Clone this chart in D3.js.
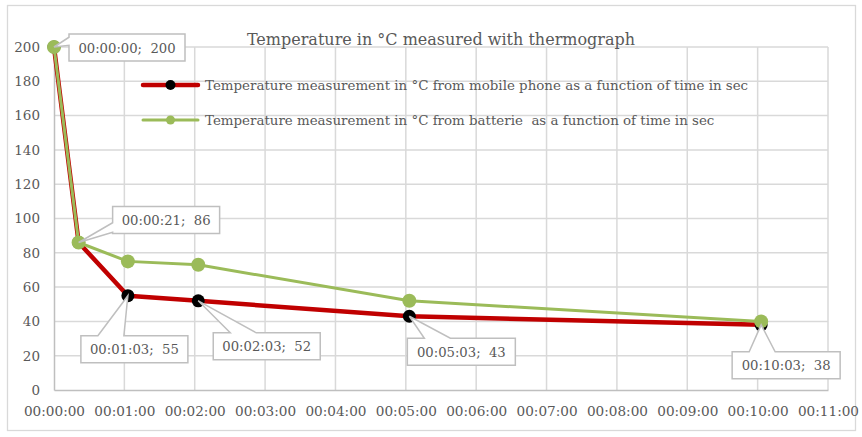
<!DOCTYPE html>
<html>
<head>
<meta charset="utf-8">
<script src="https://cdn.jsdelivr.net/npm/d3@7"></script>
<style>
  body { margin: 0; background: #fff; }
  text { font-family: "DejaVu Serif", serif; fill: #595959; white-space: pre; }
</style>
</head>
<body>
<script>
(function () {

    //chart data
    var timesSec = [0, 21, 63, 123, 303, 603]; //measurement times in seconds
    var phoneTemps = [200, 86, 55, 52, 43, 38]; //mobile phone
    var batteryTemps = [200, 86, 75, 73, 52, 40]; //batterie
    var yTicks = [0, 20, 40, 60, 80, 100, 120, 140, 160, 180, 200];
    var xTicksSec = [0, 60, 120, 180, 240, 300, 360, 420, 480, 540, 600, 660];
    var seriesNames = [
        "Temperature measurement in °C from mobile phone as a function of time in sec",
        "Temperature measurement in °C from batterie  as a function of time in sec"
    ];
    var chartTitle = "Temperature in °C measured with thermograph";

    //label callouts: box offset from the point, box width, side of the wedge
    var labelLayout = [
        {dx: 15, dy: -13, w: 116, side: "left", b0: 0.12, b1: 0.42},
        {dx: 34, dy: -36, w: 107, side: "left", b0: 0.6, b1: 0.95},
        {dx: -47, dy: 40, w: 107, side: "top"},
        {dx: 15, dy: 32, w: 107, side: "top"},
        {dx: -2, dy: 22, w: 108, side: "top"},
        {dx: -29, dy: 27, w: 108, side: "top"}
    ];

    var width = 862, height = 437;
    var margin = {left: 54, right: 34, top: 47, bottom: 47};

    var svg = d3.select("body")
        .append("svg")
        .attr("width", width)
        .attr("height", height);

    //outer chart border
    svg.append("rect")
        .attr("x", 7.5).attr("y", 5.5)
        .attr("width", 848).attr("height", 425)
        .attr("fill", "#fff")
        .attr("stroke", "#d9d9d9")
        .attr("stroke-width", 1.3);

    var x = d3.scaleLinear()
        .domain([0, 660])
        .range([margin.left, width - margin.right]);

    var y = d3.scaleLinear()
        .domain([0, 200])
        .range([height - margin.bottom, margin.top]);

    function fmtTime(s) {
        var h = Math.floor(s / 3600), m = Math.floor((s % 3600) / 60), sec = s % 60;
        return d3.format("02")(h) + ":" + d3.format("02")(m) + ":" + d3.format("02")(sec);
    }

    //gridlines
    svg.selectAll(".hgrid")
        .data(yTicks.filter(function (d) { return d > 0; }))
        .enter()
        .append("line")
        .attr("class", "hgrid")
        .attr("x1", x(0)).attr("x2", x(660))
        .attr("y1", function (d) { return y(d); })
        .attr("y2", function (d) { return y(d); })
        .attr("stroke", "#d9d9d9")
        .attr("stroke-width", 1.5);

    svg.selectAll(".vgrid")
        .data(xTicksSec.filter(function (d) { return d > 0; }))
        .enter()
        .append("line")
        .attr("class", "vgrid")
        .attr("x1", function (d) { return x(d); })
        .attr("x2", function (d) { return x(d); })
        .attr("y1", y(0)).attr("y2", y(200))
        .attr("stroke", "#d9d9d9")
        .attr("stroke-width", 1.5);

    //axes
    var xAxis = d3.axisBottom(x)
        .tickValues(xTicksSec)
        .tickFormat(fmtTime)
        .tickSize(0)
        .tickPadding(16);

    var yAxis = d3.axisLeft(y)
        .tickValues(yTicks)
        .tickSize(0)
        .tickPadding(14);

    var gx = svg.append("g")
        .attr("transform", "translate(0," + y(0) + ")")
        .call(xAxis);
    gx.select(".domain").attr("stroke", "#bfbfbf").attr("stroke-width", 1.5);
    gx.selectAll("text").attr("font-size", 13.6).attr("fill", "#595959")
        .attr("font-family", "DejaVu Serif");

    var gy = svg.append("g")
        .attr("transform", "translate(" + x(0) + ",0)")
        .call(yAxis);
    gy.select(".domain").attr("stroke", "#bfbfbf").attr("stroke-width", 1.5);
    gy.selectAll("text").attr("font-size", 13.5).attr("fill", "#595959")
        .attr("font-family", "DejaVu Serif");

    //title
    svg.append("text")
        .attr("x", 441).attr("y", 45)
        .attr("text-anchor", "middle")
        .attr("font-size", 16)
        .text(chartTitle);

    //series
    var phoneData = timesSec.map(function (t, i) { return {t: t, v: phoneTemps[i]}; });
    var batteryData = timesSec.map(function (t, i) { return {t: t, v: batteryTemps[i]}; });

    var line = d3.line()
        .x(function (d) { return x(d.t); })
        .y(function (d) { return y(d.v); });

    svg.append("path")
        .datum(phoneData)
        .attr("d", line)
        .attr("fill", "none")
        .attr("stroke", "#c00000")
        .attr("stroke-width", 4.5)
        .attr("stroke-linejoin", "round");

    svg.selectAll(".phoneDot")
        .data(phoneData)
        .enter()
        .append("circle")
        .attr("class", "phoneDot")
        .attr("cx", function (d) { return x(d.t); })
        .attr("cy", function (d) { return y(d.v); })
        .attr("r", 6.5)
        .attr("fill", "#000");

    svg.append("path")
        .datum(batteryData)
        .attr("d", line)
        .attr("fill", "none")
        .attr("stroke", "#9bbb59")
        .attr("stroke-width", 3)
        .attr("stroke-linejoin", "round");

    svg.selectAll(".batteryDot")
        .data(batteryData)
        .enter()
        .append("circle")
        .attr("class", "batteryDot")
        .attr("cx", function (d) { return x(d.t); })
        .attr("cy", function (d) { return y(d.v); })
        .attr("r", 7)
        .attr("fill", "#9bbb59");

    //legend
    var legend = [
        {color: "#c00000", dot: "#000", lw: 4.5, r: 5, y: 85, name: seriesNames[0]},
        {color: "#9bbb59", dot: "#9bbb59", lw: 3, r: 4.5, y: 120, name: seriesNames[1]}
    ];
    legend.forEach(function (l) {
        svg.append("line")
            .attr("x1", 143).attr("x2", 198)
            .attr("y1", l.y).attr("y2", l.y)
            .attr("stroke", l.color)
            .attr("stroke-width", l.lw)
            .attr("stroke-linecap", "round");
        svg.append("circle")
            .attr("cx", 170.5).attr("cy", l.y).attr("r", l.r)
            .attr("fill", l.dot);
        svg.append("text")
            .attr("x", 205).attr("y", l.y + 5)
            .attr("font-size", 13.4)
            .text(l.name);
    });

    //data labels (callouts) for the phone series
    var h = 27;
    phoneData.forEach(function (d, i) {
        var L = labelLayout[i];
        var px = x(d.t), py = y(d.v);
        var bx = px + L.dx, by = py + L.dy, bw = L.w;
        var p;
        if (L.side === "top") {
            var a = bx + 17, b = bx + 43;
            p = "M" + bx + "," + by + "L" + a + "," + by + "L" + px + "," + py +
                "L" + b + "," + by + "L" + (bx + bw) + "," + by +
                "L" + (bx + bw) + "," + (by + h) + "L" + bx + "," + (by + h) + "Z";
        } else {
            var ya = by + h * L.b0, yb = by + h * L.b1;
            p = "M" + bx + "," + by + "L" + (bx + bw) + "," + by +
                "L" + (bx + bw) + "," + (by + h) + "L" + bx + "," + (by + h) +
                "L" + bx + "," + yb + "L" + px + "," + py + "L" + bx + "," + ya + "Z";
        }
        svg.append("path")
            .attr("d", p)
            .attr("fill", "#fff")
            .attr("stroke", "#bfbfbf")
            .attr("stroke-width", 1.5)
            .attr("stroke-linejoin", "miter");
        svg.append("text")
            .attr("x", bx + bw / 2).attr("y", by + h / 2 + 5)
            .attr("text-anchor", "middle")
            .attr("font-size", 13.2)
            .text(fmtTime(d.t) + ";  " + d.v);
    });

})();
</script>
</body>
</html>
